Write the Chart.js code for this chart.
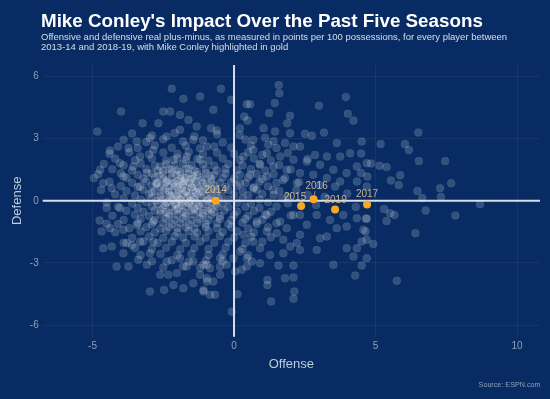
<!DOCTYPE html>
<html><head><meta charset="utf-8">
<script src="https://cdn.jsdelivr.net/npm/chart.js@4.4.1/dist/chart.umd.min.js"></script>
<style>html,body{margin:0;padding:0;background:#072b62;}#wrap{width:550px;height:399px;position:relative;}canvas{display:block;}</style>
</head><body><div id="wrap"><canvas id="c" width="550" height="399" style="width:550px;height:399px"></canvas></div>
<script>
const chartTitle = "Mike Conley's Impact Over the Past Five Seasons";
const chartSubtitle = ["Offensive and defensive real plus-minus, as measured in points per 100 possessions, for every player between", "2013-14 and 2018-19, with Mike Conley highlighted in gold"];
const xTitle = "Offense";
const yTitle = "Defense";
const sourceText = "Source: ESPN.com";
const xTicks = [-5, 0, 5, 10];
const yTicks = [-6, -3, 0, 3, 6];

// Mike Conley seasons
const conleySeasons = ["2014", "2015", "2016", "2017", "2019"];
const conleyOff = [-0.65, 2.37, 2.81, 4.70, 3.57];
const conleyDef = [0.00, -0.25, 0.08, -0.18, -0.42];

// all other player-seasons: sparse outer points
const outerPoints = [
[6.51,3.30],[4.51,2.86],[5.18,2.75],[6.04,2.75],[6.18,2.45],[4.49,2.29],[6.53,1.92],[7.46,1.92],[4.84,1.80],[5.14,1.69],[5.39,1.63],[4.49,1.34],[4.71,1.17],[5.87,1.24],[5.54,0.98],[5.82,0.77],[7.67,0.85],[7.28,0.61],[6.48,0.48],[6.65,0.14],[7.31,0.18],
[8.69,-0.16],[5.30,-0.39],[5.51,-0.60],[5.67,-0.68],[6.77,-0.47],[7.82,-0.71],[5.39,-0.97],[4.66,-0.85],[4.65,-1.48],[6.41,-1.56],[4.51,-1.96],[4.92,-2.08],[4.51,-3.12],[5.75,-3.86],
[-0.46,5.41],[1.58,5.59],[1.60,5.20],[-0.10,4.88],[-0.73,4.40],[0.45,4.67],[0.57,4.67],[1.44,4.72],[3.00,4.59],[3.95,5.02],[1.24,4.24],[0.36,4.07],[1.98,4.11],[4.02,4.20],[4.22,3.88],[1.88,3.75],[0.48,3.88],[-0.81,3.51],[-0.61,3.40],[0.21,3.51],[1.04,3.51],[1.45,3.35],[2.51,3.24],[3.18,3.30],[2.75,3.14],[1.98,3.27],[3.63,2.79],[0.68,2.95],[1.21,2.71],[1.80,2.79],[2.33,2.62],[2.86,2.22],[3.28,2.14],[3.75,2.14],[4.10,2.30],[4.34,1.66],[4.69,1.82],[3.98,1.34],[3.51,1.50],[3.04,1.74],[2.57,1.90],[2.10,1.98],[1.63,2.14],[1.16,2.30],[0.68,2.46],[0.33,2.14],[0.92,1.74],[1.39,1.66],[1.86,1.50],[2.33,1.34],[2.80,1.26],[3.28,1.10],[3.75,0.93],[4.34,0.93],[4.69,0.69],[3.57,0.69],[3.04,0.77],[2.22,0.85],[1.74,1.01],[1.16,1.17],[0.57,1.26],[0.21,0.85],[0.68,0.61],[1.39,0.53],
[2.6,0.3],[3.2,0.2],[4.0,0.35],[1.9,0.2],[2.9,-0.2],[4.3,-0.3],
[-2.20,5.41],[-1.79,4.93],[-1.20,5.04],[-3.99,4.31],[-4.83,3.35],[-3.23,3.75],[-2.67,3.75],[-2.50,4.31],[-2.26,4.31],[-1.91,4.15],[-1.61,3.91],[-1.32,3.59],[-2.97,3.03],[-3.44,2.86],[-4.38,2.43],[-3.73,2.55],[-4.73,1.50],[-4.95,1.10],[-4.62,0.85],[-4.32,0.61],[-4.03,1.82],[-3.91,1.17],[-3.56,1.66],[-3.32,2.14],[-2.85,2.46],[-2.38,3.11],[-1.91,3.43],[-1.44,2.95],[-0.96,2.62],[-3.08,1.34],[-2.61,1.66],[-2.14,1.98],[-1.67,2.14],[-1.20,1.98],[-3.32,0.69],[-2.73,0.85],
[-4.50,-0.35],[-4.03,-0.35],[-4.68,-1.48],[-4.38,-1.32],[-3.91,-1.40],[-4.62,-2.29],[-4.32,-2.21],[-3.79,-2.04],[-3.61,-2.13],[-3.91,-2.53],[-4.15,-3.17],[-3.73,-3.17],[-3.38,-2.85],[-3.08,-3.09],[-2.97,-2.53],[-2.61,-3.57],[-2.97,-4.38],[-2.47,-4.30],[-2.14,-4.06],[-1.79,-4.22],[-1.44,-3.98],[-1.08,-4.38],[-2.32,-3.57],[-2.02,-3.49],[-1.67,-3.17],[-1.20,-3.57],[-0.96,-3.90],[-3.32,-1.97],[-2.85,-1.97],[-3.44,-1.16],[-2.85,-1.00],[-2.38,-2.93],[-1.91,-2.77],[-1.44,-2.93],[-0.96,-3.09],[-4.75,-0.95],[-4.5,-1.1],
[-1.08,-3.09],[-0.73,-3.90],[-1.08,-4.30],[-0.85,-4.54],[-0.67,-4.54],[-0.08,-5.35],[0.12,-4.51],[1.31,-4.86],[2.10,-4.73],[2.13,-4.38],[1.18,-3.82],[1.18,-4.06],[1.80,-3.74],[2.10,-3.70],[4.28,-3.61],[1.57,-3.12],[2.10,-3.12],[3.51,-3.09],[0.92,-3.01],[0.45,-3.17],[0.27,-3.33],[0.63,-2.93],[1.27,-2.61],[1.74,-2.53],[2.33,-2.37],[2.92,-2.37],[3.98,-2.29],[4.34,-2.29],[4.22,-2.69],[4.69,-2.77],[4.69,-1.88],[4.57,-1.40],[4.34,-0.84],[4.69,-0.87],[3.98,-1.24],[3.63,-1.32],[3.28,-1.72],[3.04,-1.80],[3.39,-0.92],[3.86,-0.68],[2.92,-0.68],[2.57,-1.16],[2.33,-1.64],[2.22,-2.04],[1.98,-2.21],[1.74,-1.88],[1.51,-1.56],[1.86,-1.32],[1.63,-1.00],[2.33,-0.68],[2.10,-0.68],[1.16,-0.68],[0.80,-1.00],[1.16,-1.48],[0.68,-1.97],[0.33,-1.64],[0.21,-2.45],[0.92,-2.29],[-0.49,-3.57],[-0.26,-3.09],[-0.49,-2.77],[-0.85,-3.25],[-0.02,-2.77],[0.45,-2.77],[0.04,-3.41],[-0.96,-3.74]
];

// the main cloud of player-seasons
const cloudPoints = [
[-3.6,3.25],[-2.9,3.15],[-2.1,3.28],[-1.4,3.12],[-0.6,3.22],[0.2,3.18],[1.1,3.05],
[-3.9,2.95],[-3.1,2.84],[-2.5,2.98],[-1.8,2.86],[-1.1,2.93],[-0.4,2.82],[0.4,2.96],[1.4,2.88],
[-4.1,2.62],[-3.4,2.55],[-2.8,2.68],[-2.2,2.57],[-1.7,2.66],[-1.2,2.54],[-0.7,2.63],[-0.1,2.58],[0.6,2.67],[1.5,2.55],[2.1,2.62],
[-4.4,2.28],[-3.7,2.35],[-3.0,2.24],[-2.5,2.33],[-2.0,2.27],[-1.6,2.36],[-1.1,2.25],[-0.6,2.32],[0.0,2.26],[0.5,2.35],[1.0,2.22],[1.9,2.31],
[-4.2,2.04],[-3.5,1.96],[-2.9,2.05],[-2.4,1.95],[-2.0,2.06],[-1.7,1.98],[-1.3,2.03],[-0.9,1.94],[-0.4,2.05],[0.2,1.97],[0.7,2.04],[1.3,1.95],[2.6,2.02],
[-4.6,1.78],[-3.9,1.72],[-3.3,1.8],[-2.8,1.7],[-2.4,1.77],[-2.1,1.71],[-1.8,1.79],[-1.5,1.73],[-1.1,1.76],[-0.7,1.7],[-0.2,1.78],[0.3,1.72],[0.9,1.79],[1.6,1.73],
[-4.3,1.52],[-3.6,1.47],[-3.1,1.54],[-2.7,1.46],[-2.3,1.53],[-2.0,1.48],[-1.7,1.55],[-1.4,1.46],[-1.0,1.52],[-0.6,1.47],[-0.3,1.54],[0.1,1.48],[0.6,1.53],[1.1,1.46],[2.0,1.51],
[-4.8,1.28],[-4.0,1.33],[-3.4,1.26],[-2.9,1.32],[-2.5,1.27],[-2.2,1.34],[-1.9,1.26],[-1.6,1.31],[-1.3,1.25],[-1.0,1.33],[-0.7,1.27],[-0.3,1.32],[0.2,1.26],[0.8,1.31],[1.4,1.28],
[-3.8,1.12],[-3.2,1.07],[-2.8,1.13],[-2.5,1.06],[-2.2,1.11],[-1.9,1.05],[-1.7,1.14],[-1.4,1.08],[-1.1,1.13],[-0.8,1.06],[-0.4,1.12],[0.0,1.07],[0.5,1.13],[1.0,1.06],[1.8,1.1],
[-4.4,0.92],[-3.6,0.87],[-3.1,0.93],[-2.7,0.86],[-2.4,0.91],[-2.1,0.85],[-1.85,0.93],[-1.6,0.87],[-1.35,0.92],[-1.1,0.86],[-0.8,0.93],[-0.5,0.88],[-0.1,0.91],[0.4,0.86],[0.9,0.92],[1.5,0.87],[2.3,0.9],
[-4.0,0.72],[-3.4,0.67],[-2.9,0.73],[-2.6,0.66],[-2.3,0.72],[-2.0,0.68],[-1.8,0.74],[-1.5,0.66],[-1.3,0.71],[-1.0,0.67],[-0.7,0.73],[-0.3,0.68],[0.1,0.72],[0.7,0.66],[1.2,0.71],
[-4.7,0.52],[-3.8,0.47],[-3.2,0.53],[-2.8,0.46],[-2.5,0.52],[-2.2,0.47],[-1.95,0.54],[-1.7,0.46],[-1.45,0.51],[-1.2,0.47],[-0.9,0.53],[-0.6,0.46],[-0.2,0.52],[0.3,0.47],[0.8,0.53],[1.6,0.48],[2.2,0.51],
[-4.2,0.32],[-3.5,0.27],[-3.0,0.33],[-2.6,0.26],[-2.3,0.31],[-2.05,0.27],[-1.8,0.34],[-1.55,0.26],[-1.3,0.32],[-1.05,0.27],[-0.8,0.33],[-0.45,0.26],[0.0,0.31],[0.5,0.27],[1.0,0.33],[1.4,0.28],
[-3.9,0.12],[-3.3,0.07],[-2.9,0.13],[-2.5,0.06],[-2.2,0.11],[-1.9,0.07],[-1.65,0.14],[-1.4,0.06],[-1.15,0.12],[-0.9,0.07],[-0.55,0.13],[-0.2,0.06],[0.3,0.11],[0.9,0.07],[1.7,0.12],
[-4.5,-0.08],[-3.6,-0.13],[-3.1,-0.07],[-2.7,-0.14],[-2.4,-0.09],[-2.1,-0.13],[-1.85,-0.06],[-1.6,-0.12],[-1.35,-0.08],[-1.1,-0.14],[-0.8,-0.07],[-0.4,-0.12],[0.1,-0.09],[0.6,-0.13],[1.2,-0.07],[1.9,-0.11],
[-4.1,-0.28],[-3.4,-0.33],[-2.9,-0.27],[-2.5,-0.34],[-2.2,-0.29],[-1.95,-0.33],[-1.7,-0.26],[-1.45,-0.32],[-1.2,-0.28],[-0.9,-0.34],[-0.6,-0.27],[-0.2,-0.31],[0.4,-0.28],[0.9,-0.33],[1.5,-0.27],
[-3.8,-0.48],[-3.2,-0.53],[-2.8,-0.47],[-2.4,-0.54],[-2.1,-0.49],[-1.8,-0.53],[-1.5,-0.46],[-1.25,-0.52],[-0.95,-0.48],[-0.7,-0.54],[-0.35,-0.47],[0.1,-0.52],[0.7,-0.48],[1.3,-0.53],
[-4.3,-0.72],[-3.5,-0.67],[-3.0,-0.73],[-2.6,-0.66],[-2.3,-0.72],[-2.0,-0.68],[-1.7,-0.74],[-1.4,-0.66],[-1.1,-0.71],[-0.8,-0.67],[-0.5,-0.73],[0.0,-0.68],[0.5,-0.72],[1.1,-0.66],[2.0,-0.71],
[-3.9,-0.92],[-3.3,-0.87],[-2.8,-0.93],[-2.4,-0.86],[-2.1,-0.91],[-1.8,-0.87],[-1.5,-0.94],[-1.2,-0.86],[-0.9,-0.92],[-0.5,-0.87],[-0.1,-0.93],[0.4,-0.88],[1.0,-0.91],
[-4.1,-1.12],[-3.4,-1.07],[-2.9,-1.13],[-2.5,-1.06],[-2.2,-1.12],[-1.9,-1.07],[-1.6,-1.14],[-1.3,-1.06],[-1.0,-1.11],[-0.6,-1.07],[-0.2,-1.13],[0.3,-1.06],[0.8,-1.12],[1.5,-1.08],
[-3.7,-1.32],[-3.1,-1.27],[-2.6,-1.33],[-2.3,-1.26],[-2.0,-1.31],[-1.7,-1.27],[-1.4,-1.34],[-1.0,-1.26],[-0.6,-1.32],[-0.1,-1.27],[0.5,-1.33],[1.2,-1.28],
[-4.2,-1.52],[-3.3,-1.47],[-2.8,-1.53],[-2.4,-1.46],[-2.0,-1.52],[-1.6,-1.47],[-1.3,-1.54],[-0.9,-1.46],[-0.4,-1.51],[0.1,-1.47],[0.7,-1.53],
[-3.6,-1.78],[-3.0,-1.72],[-2.5,-1.79],[-2.1,-1.71],[-1.8,-1.77],[-1.4,-1.72],[-1.0,-1.78],[-0.5,-1.71],[0.0,-1.77],[0.6,-1.73],[1.3,-1.76],
[-3.9,-2.02],[-3.2,-1.96],[-2.7,-2.03],[-2.2,-1.97],[-1.7,-2.04],[-1.2,-1.96],[-0.7,-2.02],[-0.2,-1.97],[0.4,-2.03],[1.0,-1.98],
[-3.5,-2.28],[-2.9,-2.33],[-2.4,-2.27],[-1.9,-2.34],[-1.4,-2.28],[-0.9,-2.32],[-0.3,-2.27],[0.3,-2.33],
[-3.3,-2.62],[-2.6,-2.57],[-2.0,-2.63],[-1.5,-2.56],[-0.9,-2.62],[-0.4,-2.58],[0.5,-2.63],
[-2.9,-2.92],[-2.2,-2.87],[-1.6,-2.93],[-1.0,-2.88],[-0.4,-2.91],
[-2.5,-3.22],[-1.8,-3.17],[-1.2,-3.23],[-0.5,-3.18]
];

// the densest core of the cloud
const corePoints = [
[-2.65,1.2],[-2.35,1.0],[-2.05,1.25],[-1.75,0.95],[-1.45,1.2],[-1.15,1.0],[-0.85,1.2],
[-2.75,0.8],[-2.45,0.6],[-2.15,0.85],[-1.85,0.6],[-1.55,0.85],[-1.25,0.6],[-0.95,0.8],[-0.65,0.55],
[-2.9,0.4],[-2.6,0.2],[-2.3,0.45],[-2.0,0.2],[-1.7,0.45],[-1.4,0.2],[-1.1,0.45],[-0.8,0.15],
[-2.75,0.0],[-2.45,-0.2],[-2.15,0.05],[-1.85,-0.2],[-1.55,0.0],[-1.25,-0.2],[-0.95,0.0],[-0.65,-0.15],
[-2.6,-0.45],[-2.3,-0.6],[-2.0,-0.4],[-1.7,-0.6],[-1.4,-0.4],[-1.1,-0.6],[-0.8,-0.4],
[-2.2,1.5],[-1.9,1.4],[-1.6,1.55],[-1.3,1.4],[-2.5,1.45],
[-2.4,0.9],[-2.1,0.7],[-1.8,0.8],[-1.5,0.65],[-1.95,0.35],[-1.65,0.25],[-1.35,0.4],[-2.25,0.25],[-1.9,0.05],[-1.6,-0.1],[-2.35,-0.05],[-2.05,-0.15],[-1.75,1.1],[-2.0,0.95],[-1.5,1.05]
];

const playerData = outerPoints.concat(cloudPoints, corePoints).map(p => ({x: p[0], y: p[1]}));
const conleyData = conleyOff.map((v, i) => ({x: v, y: conleyDef[i]}));

const FONT = "'Liberation Sans', Arial, Helvetica, sans-serif";

const deco = {
  id: 'deco',
  afterDatasetDraw(chart, args) {
    if (args.index !== 1) return;
    const {ctx, chartArea: a, scales: {x, y}} = chart;
    const x0 = x.getPixelForValue(0), y0 = y.getPixelForValue(0);
    ctx.save();
    ctx.strokeStyle = 'rgba(228,232,240,0.95)';
    ctx.lineWidth = 2;
    ctx.beginPath();
    ctx.moveTo(x0, a.top); ctx.lineTo(x0, a.bottom);
    ctx.moveTo(a.left, y0); ctx.lineTo(a.right, y0);
    ctx.stroke();
    ctx.restore();
  },
  afterDatasetsDraw(chart) {
    const {ctx, scales: {x, y}} = chart;
    const offs = {"2014": [0, -10.5], "2015": [-6, -8.5], "2016": [3, -12.5], "2017": [0, -10], "2019": [0.5, -9]};
    ctx.save();
    ctx.font = '10px ' + FONT;
    ctx.textAlign = 'center';
    ctx.textBaseline = 'middle';
    conleySeasons.forEach((s, i) => {
      const px = x.getPixelForValue(conleyOff[i]), py = y.getPixelForValue(conleyDef[i]);
      const o = offs[s] || [0, -10];
      if (s === "2016") {
        ctx.strokeStyle = 'rgba(222,190,140,0.8)';
        ctx.lineWidth = 0.8;
        ctx.beginPath(); ctx.moveTo(px + 1.5, py + o[1] + 4.5); ctx.lineTo(px + 0.5, py - 3.5); ctx.stroke();
      }
      ctx.fillStyle = 'rgba(220,192,146,0.9)';
      ctx.fillText(s, px + o[0], py + o[1]);
    });
    ctx.restore();
  },
  afterDraw(chart) {
    const {ctx, chartArea: a} = chart;
    ctx.save();
    ctx.fillStyle = '#ffffff';
    ctx.textAlign = 'left';
    ctx.textBaseline = 'alphabetic';
    ctx.font = 'bold 18.8px ' + FONT;
    ctx.fillText(chartTitle, 41, 26.5);
    ctx.fillStyle = 'rgba(222,228,238,0.95)';
    ctx.font = '9.5px ' + FONT;
    ctx.fillText(chartSubtitle[0], 41, 39.5);
    ctx.fillText(chartSubtitle[1], 41, 50);
    ctx.fillStyle = 'rgba(200,212,228,0.95)';
    ctx.font = '13px ' + FONT;
    ctx.textAlign = 'center';
    ctx.textBaseline = 'middle';
    ctx.fillText(xTitle, (a.left + a.right) / 2, 364);
    ctx.save();
    ctx.translate(17, (a.top + a.bottom) / 2);
    ctx.rotate(-Math.PI / 2);
    ctx.fillText(yTitle, 0, 0);
    ctx.restore();
    ctx.fillStyle = 'rgba(150,166,192,0.95)';
    ctx.font = '7.2px ' + FONT;
    ctx.textAlign = 'right';
    ctx.fillText(sourceText, 540.5, 385);
    ctx.restore();
  }
};

new Chart(document.getElementById('c'), {
  type: 'scatter',
  data: {
    datasets: [
      {label: 'Mike Conley', data: conleyData, pointRadius: 4, pointHoverRadius: 4,
       backgroundColor: '#f7a824', borderColor: '#f7a824', borderWidth: 0},
      {label: 'Players', data: playerData, pointRadius: 4, pointHoverRadius: 4,
       backgroundColor: 'rgba(255,255,255,0.18)', borderColor: 'rgba(255,255,255,0.06)', borderWidth: 1}
    ]
  },
  options: {
    responsive: false,
    animation: false,
    events: [],
    layout: {padding: {top: 65, right: 10, left: 0, bottom: 0}},
    plugins: {legend: {display: false}, tooltip: {enabled: false}, title: {display: false}},
    scales: {
      x: {
        type: 'linear', min: -6.76, max: 10.81,
        afterBuildTicks: s => { s.ticks = xTicks.map(v => ({value: v})); },
        afterFit: s => { s.height = 62.3; },
        grid: {color: 'rgba(255,255,255,0.055)', lineWidth: 1, drawTicks: false},
        border: {display: false},
        ticks: {color: 'rgba(150,166,192,0.95)', font: {family: FONT, size: 10}, padding: 4}
      },
      y: {
        type: 'linear', min: -6.56, max: 6.56,
        afterBuildTicks: s => { s.ticks = yTicks.map(v => ({value: v})); },
        afterFit: s => { s.width = 42.7; },
        grid: {color: 'rgba(255,255,255,0.055)', lineWidth: 1, drawTicks: false},
        border: {display: false},
        ticks: {color: 'rgba(150,166,192,0.95)', font: {family: FONT, size: 10}, padding: 4}
      }
    }
  },
  plugins: [deco]
});
</script></body></html>
